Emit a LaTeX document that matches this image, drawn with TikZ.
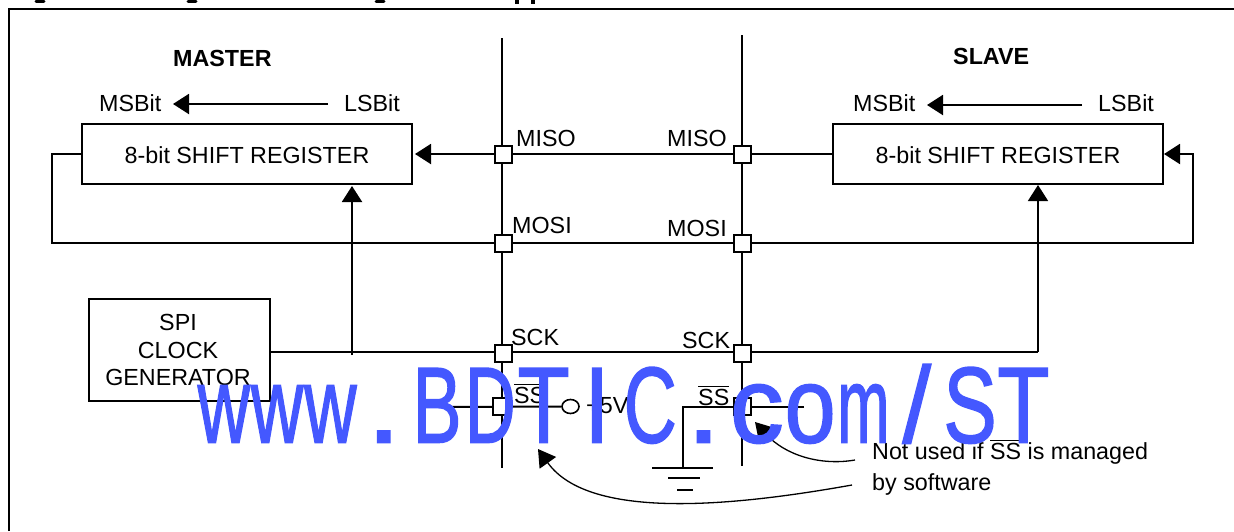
\documentclass[tikz,border=0pt]{standalone}
\usepackage{fontspec}
\usepackage{graphicx}
\setmainfont{Liberation Sans}
\newfontface\wmface[FakeBold=1.5]{Liberation Sans}
\usetikzlibrary{arrows.meta,shapes.geometric}
\definecolor{wmblue}{HTML}{4458FF}
\newcommand\ovl[1]{\leavevmode\vbox{\hrule height 1.6pt \kern 1.6pt\hbox{#1}}}
\newcommand\wmc[2]{\makebox[53.3pt][c]{\scalebox{#1}[1]{#2}}}
\tikzset{
  wire/.style={line width=2pt},
  thin wire/.style={line width=1.3pt},
  head/.style={-{Triangle[length=16pt,width=20pt]}},
  boxnode/.style={draw,line width=2pt,fill=white,inner sep=0pt},
  pinbox/.style={draw,line width=2pt,fill=white,minimum size=17pt,inner sep=0pt},
  lbl/.style={inner sep=0pt,font=\fontsize{23.3}{28}\selectfont},
  lblb/.style={lbl,anchor=base west},
  bold lbl/.style={lblb,font=\fontsize{23.3}{28}\selectfont\bfseries},
}
\begin{document}
\begin{tikzpicture}[x=1pt,y=-1pt]
\useasboundingbox (0,0) rectangle (1234,531);
\fill[white] (0,0) rectangle (1234,531);
% clipped remains of the heading
\begin{scope}[line width=3pt,line cap=round]
\draw (36,1) -- (44,1);
\draw (188,1) -- (196,1);
\draw (376,1) -- (384,1);
\end{scope}
\fill (515,0) rectangle (519,4);
\fill (531,0) rectangle (535,4);
% frame
\coordinate (fa) at (9,531); \coordinate (fb) at (9,9); \coordinate (fc) at (1234,9);
\draw[line width=2.7pt] (fa) -- (fb) -- (fc);
% buses
\coordinate (la) at (502,38); \coordinate (lb) at (502,468);
\coordinate (ra) at (742,35); \coordinate (rb) at (742,466);
\draw[wire] (la) -- (lb);
\draw[wire] (ra) -- (rb);
% boxes
\node[boxnode,minimum width=330pt,minimum height=60pt] (mreg) at (247,154) {};
\node[boxnode,minimum width=330pt,minimum height=60pt] (sreg) at (998,154) {};
\node[boxnode,minimum width=181pt,minimum height=102pt] (clk) at (179,350) {};
% pins
\coordinate (misol) at (503,154); \coordinate (misor) at (742,154);
\coordinate (mosil) at (503,243); \coordinate (mosir) at (742,243);
\coordinate (sckl) at (503,353); \coordinate (sckr) at (742,353);
\coordinate (ssl) at (501,406); \coordinate (ssr) at (742,406);
% wires
\coordinate (mtip) at (415,154);
\coordinate (stip) at (1164,154);
\coordinate (fbl) at (52,243); \coordinate (fbr) at (1193,243);
\draw[wire,head] (misol) -- (mtip);
\draw[wire] (misol) -- (misor) -- (sreg.west);
\draw[wire] (mreg.west) -- (52,154) -- (fbl) -- (fbr) -- (1193,154) -- (1179,154);
\draw[wire,head] (1193,154) -- (stip);
\coordinate (clkb) at (269,352); \coordinate (clkc) at (1038,352);
\draw[wire] (clkb) -- (clkc);
\coordinate (ma) at (352,355); \coordinate (mb) at (352,186);
\draw[wire,head] (ma) -- (mb);
\coordinate (sb) at (1038,185);
\draw[line width=1.5pt,head] (clkc) -- (sb);
% SS wires
\node[draw,ellipse,line width=1.6pt,inner sep=0pt,minimum width=17pt,minimum height=14pt] (vcc) at (570.5,406.5) {};
\coordinate (ssla) at (440,407);
\draw[wire] (ssla) -- (vcc.west);
\coordinate (ssra) at (804,407); \coordinate (gnd) at (683,467);
\draw[wire] (ssra) -- (683,407) -- (gnd);
\coordinate (g1a) at (652,467.5); \coordinate (g1b) at (713,467.5);
\coordinate (g2a) at (668,477.5); \coordinate (g2b) at (700,477.5);
\coordinate (g3a) at (677,490); \coordinate (g3b) at (693,490);
\draw[wire] (g1a) -- (g1b);
\draw[wire] (g2a) -- (g2b);
\draw[wire] (g3a) -- (g3b);
% pin squares
\node[pinbox] (p1) at (misol) {};
\node[pinbox] (p2) at (misor) {};
\node[pinbox] (p3) at (mosil) {};
\node[pinbox] (p4) at (mosir) {};
\node[pinbox] (p5) at (sckl) {};
\node[pinbox] (p6) at (sckr) {};
\node[pinbox] (p7) at (ssl) {};
\node[pinbox] (p8) at (ssr) {};
% MSBit arrows
\coordinate (a1) at (328,104); \coordinate (a2) at (173,104);
\coordinate (b1) at (1082,105); \coordinate (b2) at (927,105);
\draw[wire,head] (a1) -- (a2);
\draw[wire,head] (b1) -- (b2);
% notes arrows
\coordinate (n1) at (855,460); \coordinate (n2) at (755,422);
\coordinate (n3) at (852,485); \coordinate (n4) at (538,449);
\draw[thin wire,-{Triangle[length=17pt,width=20pt]}] (n1) .. controls (820,466) and (785,455) .. (n2);
\draw[thin wire,-{Triangle[length=17pt,width=20pt]}] (n3) .. controls (740,505) and (590,522) .. (n4);
% text
\node[bold lbl] (tm) at (173,66) {MASTER};
\node[bold lbl] (ts) at (953,64) {SLAVE};
\node[lblb] (t1) at (99,111) {MSBit};
\node[lblb] (t2) at (344,111) {LSBit};
\node[lblb] (t3) at (853,111) {MSBit};
\node[lblb] (t4) at (1098,111) {LSBit};
\node[lbl,anchor=base] (t5) at (mreg.center |- 0,163) {8-bit SHIFT REGISTER};
\node[lbl,anchor=base] (t6) at (sreg.center |- 0,163) {8-bit SHIFT REGISTER};
\node[lblb] (t7) at (516,146) {MISO};
\node[lblb] (t8) at (667,146) {MISO};
\node[lblb] (t9) at (512,233) {MOSI};
\node[lblb] (t10) at (667,236) {MOSI};
\node[lblb] (t11) at (511,345) {SCK};
\node[lblb] (t12) at (682,348) {SCK};
\node[lbl,anchor=base] (t13) at (178,330) {SPI};
\node[lbl,anchor=base] (t14) at (178,358) {CLOCK};
\node[lbl,anchor=base] (t15) at (178,385) {GENERATOR};
\node[lblb] (t16) at (514,403) {\ovl{SS}};
\node[lblb] (t17) at (698,405) {\ovl{SS}};
\node[lblb] (t18) at (586,413) {+5V};
\node[lblb] (t19) at (872,459) {Not used if \ovl{SS} is managed};
\node[lblb] (t20) at (872,490) {by software};
% watermark
\node[inner sep=0pt,anchor=base west,text=wmblue,font=\fontsize{108}{110}\wmface] (wm) at (197,442.5)
 {\wmc{.67}{w}\wmc{.67}{w}\wmc{.67}{w}\wmc{1.15}{.}\wmc{.68}{B}\wmc{.65}{D}\wmc{.79}{T}\wmc{.85}{I}\wmc{.68}{C}\wmc{1.15}{.}\wmc{1}{c}\wmc{.85}{o}\wmc{.58}{m}\wmc{.95}{/}\wmc{.74}{S}\wmc{.79}{T}};
\end{tikzpicture}
\end{document}
